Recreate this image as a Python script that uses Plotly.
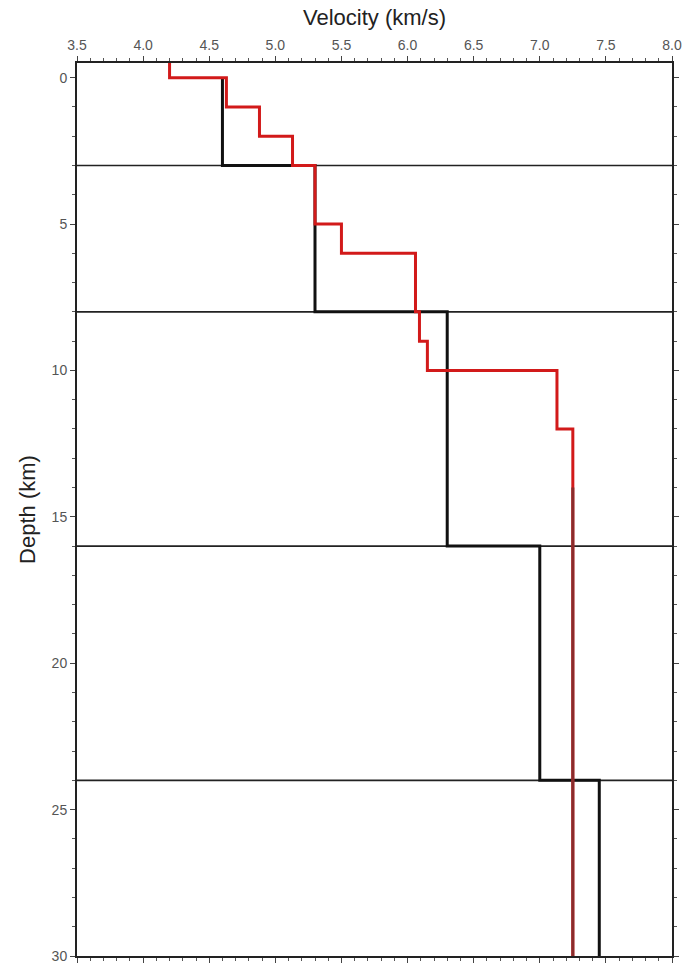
import plotly.graph_objects as go

# ---- data ----
boundary_depths = [3, 8, 16, 24]

black_tops = [0, 3, 8, 16, 24]
black_vel = [4.6, 5.3, 6.3, 7.0, 7.45]
model_bottom = 30

red_tops = [-0.5, 0, 1, 2, 3, 5, 6, 8, 9, 10, 12]
red_vel = [4.2, 4.63, 4.88, 5.13, 5.3, 5.5, 6.06, 6.09, 6.15, 7.13, 7.25]

deep_tops = [14]
deep_vel = [7.25]

x_ticks = [3.5, 4.0, 4.5, 5.0, 5.5, 6.0, 6.5, 7.0, 7.5, 8.0]
y_ticks = [0, 5, 10, 15, 20, 25, 30]


def step(tops, vels, bottom):
    return vels + [vels[-1]], tops + [bottom]


fig = go.Figure()

bx, by = step(black_tops, black_vel, model_bottom)
fig.add_trace(go.Scatter(x=bx, y=by, mode="lines", line_shape="vh",
                         line=dict(color="#111111", width=3), showlegend=False))
rx, ry = step(red_tops, red_vel, model_bottom)
fig.add_trace(go.Scatter(x=rx, y=ry, mode="lines", line_shape="vh",
                         line=dict(color="#d21a1a", width=3), showlegend=False))
dx, dy = step(deep_tops, deep_vel, model_bottom)
fig.add_trace(go.Scatter(x=dx, y=dy, mode="lines", line_shape="vh",
                         line=dict(color="#8a2c2c", width=3), showlegend=False))

for d in boundary_depths:
    fig.add_shape(type="line", xref="paper", x0=0, x1=1, yref="y", y0=d, y1=d,
                  line=dict(color="#222222", width=1.6), layer="below")

fig.update_layout(
    width=683, height=965,
    margin=dict(l=77, r=11, t=63, b=9),
    paper_bgcolor="white", plot_bgcolor="white",
    font=dict(family="Liberation Sans, Arial, sans-serif", color="#222"),
)

fig.update_xaxes(
    side="top", range=[3.5, 8.0], tickvals=x_ticks,
    ticktext=[f"{v:.1f}" for v in x_ticks],
    automargin=False,
    showgrid=False, zeroline=False,
    showline=True, linecolor="#222", linewidth=2, mirror="ticks",
    ticks="outside", ticklen=5, tickwidth=1, tickcolor="#444",
    minor=dict(dtick=0.1, ticks="outside", ticklen=3, tickcolor="#555", showgrid=False),
    tickfont=dict(size=14, color="#555", family="Liberation Sans Narrow, Liberation Sans, sans-serif"),
    title=dict(text="Velocity (km/s)", font=dict(size=22, color="#222"), standoff=6),
)

fig.update_yaxes(
    range=[30, -0.5], tickvals=y_ticks,
    automargin=False,
    showgrid=False, zeroline=False,
    showline=True, linecolor="#222", linewidth=2, mirror="ticks",
    ticks="outside", ticklen=5, tickwidth=1, tickcolor="#444",
    minor=dict(dtick=1, ticks="outside", ticklen=3, tickcolor="#555", showgrid=False),
    tickfont=dict(size=14, color="#555"),
    title=dict(text="Depth (km)", font=dict(size=22, color="#222"), standoff=10),
)

fig.write_html(
    "out.html",
    config={"displayModeBar": False},
    post_script="document.body.style.margin='0';document.body.style.overflow='hidden';",
)
